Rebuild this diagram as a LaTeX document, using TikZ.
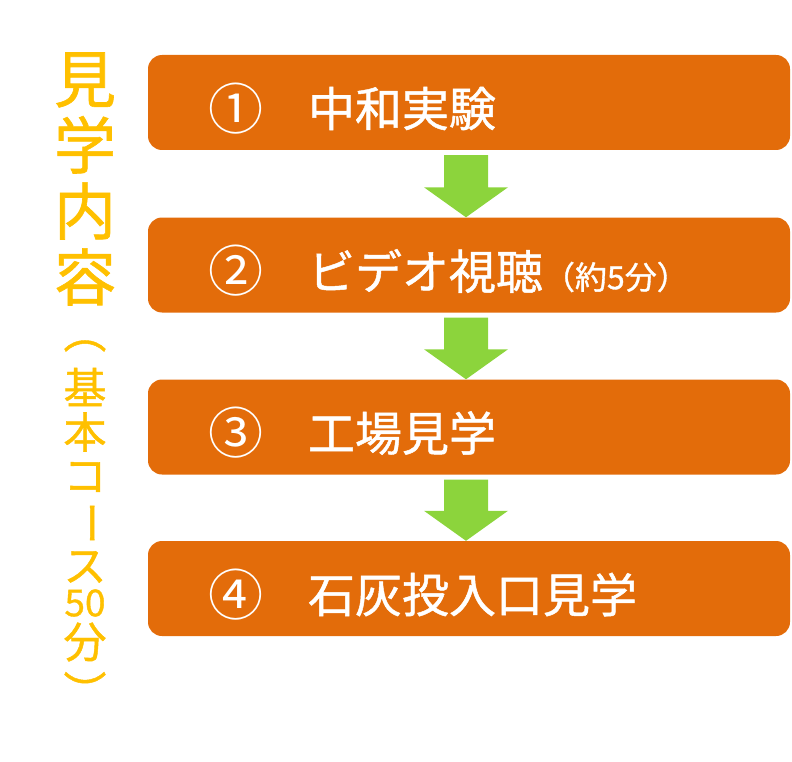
\documentclass[tikz,border=0pt]{standalone}
\usepackage{fontspec}
\usetikzlibrary{calc}
\newfontfamily\jpfont[FakeBold=1]{Noto Sans CJK JP}
\newfontfamily\jpthin{Noto Sans CJK JP}
\definecolor{stepOrange}{HTML}{E36C0A}
\definecolor{arrowGreen}{HTML}{8CD43C}
\definecolor{titleGold}{HTML}{FFC000}

\begin{document}
\begin{tikzpicture}[x=1pt, y=-1pt,
    box/.style={fill=stepOrange, rounded corners=14pt, minimum width=642pt, minimum height=95pt, inner sep=0pt},
    num/.style={text=white, inner sep=0pt, font=\jpthin\fontsize{55}{60}\selectfont},
    lbl/.style={text=white, anchor=west, inner sep=0pt, font=\jpfont\fontsize{47}{50}\selectfont},
    flow/.style={fill=arrowGreen},
    ttl/.style={text=titleGold, align=center, inner sep=0pt, font=\jpfont\fontsize{62}{66}\selectfont},
    sub/.style={text=titleGold, inner sep=0pt, font=\jpfont\fontsize{43}{45}\selectfont},
  ]
  \useasboundingbox (0,0) rectangle (792,762);

  % the four steps
  \node[box] (b1) at (469,102.5) {};
  \node[box] (b2) at (469,265) {};
  \node[box] (b3) at (469,427) {};
  \node[box] (b4) at (469,588.5) {};

  % numbers and labels, a little below the box centre
  \node[num] (n1) at ($(b1.west)+(88,6)$) {①};
  \node[lbl] (t1) at ($(b1.west)+(160,6)$) {中和実験};
  \node[num] (n2) at ($(b2.west)+(88,6)$) {②};
  \node[lbl] (t2) at ($(b2.west)+(160,6)$) {ビデオ視聴{\fontsize{32}{34}\selectfont（約5分）}};
  \node[num] (n3) at ($(b3.west)+(88,6)$) {③};
  \node[lbl] (t3) at ($(b3.west)+(160,6)$) {工場見学};
  \node[num] (n4) at ($(b4.west)+(88,6)$) {④};
  \node[lbl] (t4) at ($(b4.west)+(160,6)$) {石灰投入口見学};

  % block arrows between the steps
  \coordinate (ax) at (466,0);
  \foreach \i/\j in {1/2, 2/3, 3/4} {
    \fill[flow] ($(ax |- b\i.south)+(-22,5)$) -- ($(ax |- b\j.north)+(-22,-30)$)
      -- ++(-20,0) -- (ax |- b\j.north) -- ++(42,-30) -- ++(-20,0)
      -- ($(ax |- b\i.south)+(22,5)$) -- cycle;
  }

  % vertical title on the left
  \node[ttl] (title) at (85,179) {見\\学\\内\\容};
  \foreach \ch/\yy [count=\k] in {︵/346, 基/387, 本/432, コ/477, \rotatebox[origin=c]{-90}{ー}/523,
      ス/567, {\fontsize{37}{37}\selectfont 50}/603, 分/642, ︶/690}
    \node[sub] (s\k) at (85,\yy) {\ch};
\end{tikzpicture}
\end{document}
